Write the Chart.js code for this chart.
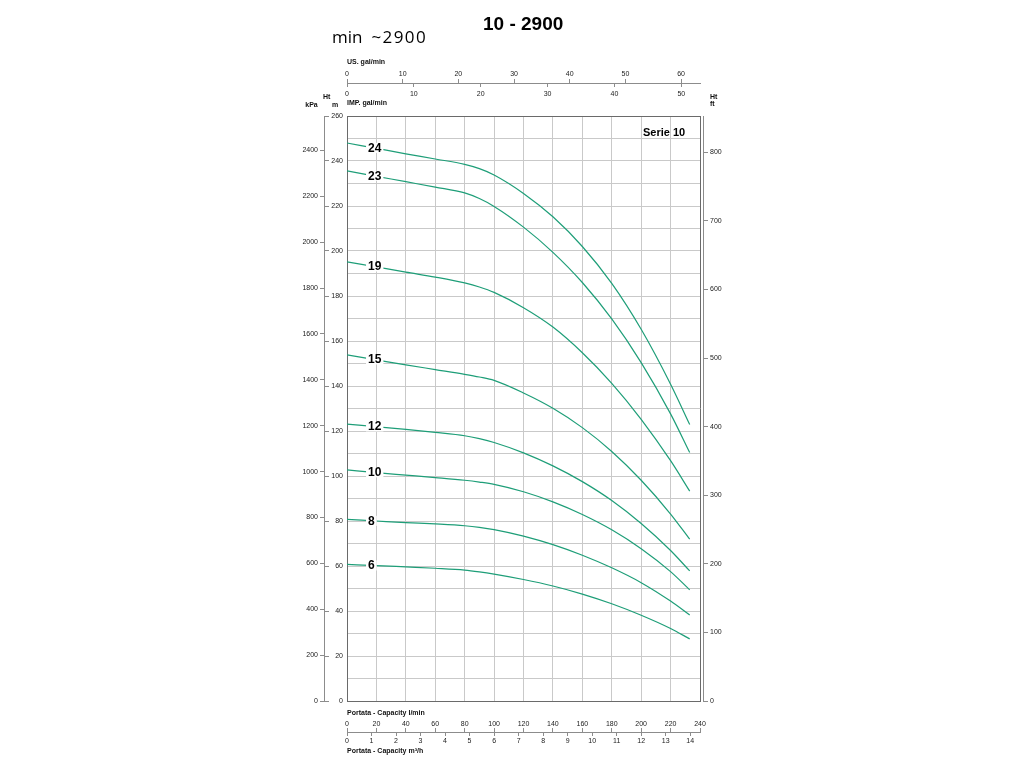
<!DOCTYPE html>
<html lang="en">
<head>
<meta charset="UTF-8">
<title>10 - 2900</title>
<script src="https://cdn.jsdelivr.net/npm/chart.js@4.4.2/dist/chart.umd.min.js"></script>
<style>
  html, body { margin: 0; padding: 0; background: #fff; }
  #wrap { width: 1024px; height: 768px; }
</style>
</head>
<body>
<div id="wrap"><canvas id="pumpChart" width="1024" height="768"></canvas></div>
<script>
  const capacity = [0, 20, 40, 60, 80, 90, 100, 120, 140, 160, 180, 200, 220, 233];
  // head (m) for each number of stages
  const head24 = [248.0, 245.6, 243.2, 240.9, 238.5, 236.6, 233.8, 225.6, 215.2, 202.0, 185.6, 165.2, 140.8, 122.9];
  const head23 = [235.6, 233.2, 230.8, 228.4, 225.8, 223.3, 219.8, 210.6, 199.4, 186.0, 169.8, 150.4, 127.6, 110.4];
  const head19 = [195.2, 192.9, 190.6, 188.4, 185.8, 184.0, 181.6, 174.8, 166.2, 154.8, 141.2, 125.2, 106.8, 93.3];
  const head15 = [153.8, 151.6, 149.4, 147.3, 145.2, 144.0, 142.5, 136.9, 130.1, 121.5, 110.9, 98.1, 83.1, 71.9];
  const head12 = [123.1, 121.9, 120.7, 119.4, 117.9, 116.6, 114.9, 110.3, 104.5, 97.5, 89.1, 78.9, 66.9, 57.8];
  const head10 = [102.7, 101.5, 100.4, 99.3, 98.1, 97.3, 96.3, 93.0, 88.5, 82.9, 76.1, 67.7, 57.5, 49.4];
  const head8  = [80.7, 80.0, 79.3, 78.7, 77.9, 77.2, 76.2, 73.3, 69.5, 64.8, 59.2, 52.6, 44.4, 38.2];
  const head6  = [60.7, 60.2, 59.6, 59.0, 58.2, 57.4, 56.4, 54.0, 51.1, 47.5, 43.2, 38.1, 32.2, 27.6];
  const stageNames = ['24', '23', '19', '15', '12', '10', '8', '6'];
  const headSeries = [head24, head23, head19, head15, head12, head10, head8, head6];

  // tick labels of every axis
  const lpmTicks = [0, 20, 40, 60, 80, 100, 120, 140, 160, 180, 200, 220, 240];
  const m3hTicks = [0, 1, 2, 3, 4, 5, 6, 7, 8, 9, 10, 11, 12, 13, 14];
  const usTicks  = [0, 10, 20, 30, 40, 50, 60];
  const impTicks = [0, 10, 20, 30, 40, 50];
  const mTicks   = [0, 20, 40, 60, 80, 100, 120, 140, 160, 180, 200, 220, 240, 260];
  const kpaTicks = [0, 200, 400, 600, 800, 1000, 1200, 1400, 1600, 1800, 2000, 2200, 2400];
  const ftTicks  = [0, 100, 200, 300, 400, 500, 600, 700, 800];

  const Q_MAX = 240, H_MAX = 260;
  const FONT = "'Liberation Sans', Arial, sans-serif";
  const tickFont = { family: FONT, size: 7 };
  const titleFont = { family: FONT, size: 7, weight: 'bold' };
  const lineGreen = '#1e9e78';
  const gridGray = '#c9c9c9';
  const edgeGray = '#6a6a6a';
  const axisGray = '#8c8c8c';

  function fixed(size) {
    return s => { if (s.isHorizontal()) s.height = size; else s.width = size; };
  }
  function setTicks(list) {
    return s => { s.ticks = list.map(v => ({ value: v })); };
  }
  const plain = v => String(v);
  const noGrid = { display: false, drawTicks: false, tickLength: 0 };
  const markGrid = { display: true, drawOnChartArea: false, drawTicks: true, tickLength: 4, tickColor: axisGray, tickWidth: 1 };

  // capacity / head axes in other units share the same range
  function extraAxis(position, weight, max, ticks, size, more) {
    return Object.assign({
      type: 'linear', position: position, weight: weight, min: 0, max: max,
      afterBuildTicks: setTicks(ticks), afterFit: fixed(size),
      grid: noGrid, border: { display: false },
      ticks: { display: false }
    }, more || {});
  }
  function shownTicks(padding) {
    return { display: true, autoSkip: false, maxRotation: 0, minRotation: 0, font: tickFont, color: '#222', padding: padding, callback: plain };
  }

  const curveLabels = {
    id: 'curveLabels',
    afterDatasetsDraw(chart) {
      const { ctx, scales: { x, y } } = chart;
      const labelQ = 18;
      ctx.save();
      ctx.font = 'bold 12px ' + FONT;
      ctx.textBaseline = 'middle';
      ctx.textAlign = 'left';
      headSeries.forEach((h, i) => {
        const v = h[0] + (h[1] - h[0]) * labelQ / (capacity[1] - capacity[0]);
        const py = y.getPixelForValue(v);
        const px = x.getPixelForValue(14.3);
        const w = ctx.measureText(stageNames[i]).width;
        ctx.fillStyle = '#fff';
        ctx.fillRect(px - 2, py - 5, w + 4, 10);
        ctx.fillStyle = '#000';
        ctx.fillText(stageNames[i], px, py + 0.5);
      });
      ctx.restore();
    }
  };

  const headerText = {
    id: 'headerText',
    afterDraw(chart) {
      const { ctx, chartArea, scales } = chart;
      ctx.save();
      ctx.fillStyle = '#000';
      ctx.textBaseline = 'alphabetic';
      ctx.textAlign = 'left';
      ctx.font = 'bold 19px ' + FONT;
      ctx.fillText('10 - 2900', 483, 30);
      ctx.font = "17px 'Open Sans', sans-serif";
      ctx.fillText('min', 332, 42.5);
      if ('letterSpacing' in ctx) ctx.letterSpacing = '1.4px';
      ctx.fillText('~2900', 371.5, 42.5);
      if ('letterSpacing' in ctx) ctx.letterSpacing = '0px';

      ctx.font = 'bold 11px ' + FONT;
      ctx.fillText('Serie 10', chartArea.right - 57, chartArea.top + 19.5);

      ctx.fillStyle = '#111';
      ctx.font = 'bold 7px ' + FONT;
      const kpa = scales.yKpa;
      ctx.textAlign = 'center';
      ctx.fillText('kPa', kpa.right - 12.5, 107);
      ctx.textAlign = 'left';
      ctx.fillText('Ht', kpa.right - 1, 98.5);
      ctx.fillText('m', chartArea.left - 15, 107);
      const ft = scales.yFt;
      ctx.fillText('Ht', ft.left + 7, 98.5);
      ctx.fillText('ft', ft.left + 7, 105.5);
      ctx.restore();
    }
  };

  new Chart(document.getElementById('pumpChart'), {
    type: 'line',
    data: {
      datasets: stageNames.map((name, i) => ({
        label: name,
        data: capacity.map((q, k) => ({ x: q, y: headSeries[i][k] })),
        borderColor: lineGreen,
        borderWidth: 1.2,
        pointRadius: 0,
        fill: false,
        cubicInterpolationMode: 'monotone',
        xAxisID: 'x',
        yAxisID: 'y'
      }))
    },
    options: {
      responsive: false,
      animation: false,
      layout: { padding: { left: 294, right: 291, top: 55, bottom: 10 } },
      plugins: { legend: { display: false }, tooltip: { enabled: false } },
      scales: {
        // bottom: l/min grid + title, l/min labels, l/min marks, m3/h axis
        x: {
          type: 'linear', position: 'bottom', weight: 0, min: 0, max: Q_MAX,
          afterBuildTicks: setTicks(lpmTicks), afterFit: fixed(17),
          grid: { color: c => (c.tick && c.tick.value === Q_MAX ? edgeGray : gridGray), lineWidth: 1, drawTicks: false, tickLength: 0 },
          border: { color: edgeGray, width: 1 },
          ticks: { display: false },
          title: { display: true, text: 'Portata - Capacity l/min', align: 'start', color: '#111', font: titleFont, padding: { top: 0, bottom: 1 } }
        },
        xLpm: extraAxis('bottom', 1, Q_MAX, lpmTicks, 10, { ticks: shownTicks(1.5) }),
        xLpmMarks: extraAxis('bottom', 2, Q_MAX, lpmTicks, 4, { grid: markGrid }),
        xM3h: extraAxis('bottom', 3, Q_MAX * 0.06, m3hTicks, 26, {
          grid: markGrid,
          border: { display: true, color: axisGray, width: 1 },
          ticks: shownTicks(0.8),
          title: { display: true, text: 'Portata - Capacity m³/h', align: 'start', color: '#111', font: titleFont, padding: { top: 0, bottom: 2.5 } }
        }),
        // top: IMP title, IMP labels, IMP marks, US axis
        xImpTitle: extraAxis('top', 0, Q_MAX / 4.54609, impTicks, 18, {
          title: { display: true, text: 'IMP. gal/min', align: 'start', color: '#111', font: titleFont, padding: { top: 0.8, bottom: 0 } }
        }),
        xImp: extraAxis('top', 1, Q_MAX / 4.54609, impTicks, 11, { ticks: shownTicks(0) }),
        xImpMarks: extraAxis('top', 2, Q_MAX / 4.54609, impTicks, 4, { grid: markGrid }),
        xUs: extraAxis('top', 3, Q_MAX / 3.78541, usTicks, 28, {
          grid: markGrid,
          border: { display: true, color: axisGray, width: 1 },
          ticks: shownTicks(0.5),
          title: { display: true, text: 'US. gal/min', align: 'start', color: '#111', font: titleFont, padding: { top: 3.3, bottom: 0 } }
        }),
        // left: m labels + grid, m marks, kPa axis
        y: {
          type: 'linear', position: 'left', weight: 0, min: 0, max: H_MAX,
          afterFit: fixed(18),
          grid: { color: c => (c.tick && c.tick.value === H_MAX ? edgeGray : gridGray), lineWidth: 1, drawTicks: false, tickLength: 0 },
          border: { color: edgeGray, width: 1 },
          ticks: { stepSize: 10, autoSkip: false, font: tickFont, color: '#222', padding: 4,
                   callback: v => (mTicks.includes(v) ? String(v) : '') }
        },
        yMarks: extraAxis('left', 1, H_MAX, mTicks, 5, { grid: markGrid }),
        yKpa: extraAxis('left', 2, H_MAX * 9.80665, kpaTicks, 30, {
          grid: markGrid,
          border: { display: true, color: axisGray, width: 1 },
          ticks: shownTicks(2)
        }),
        // right: small gap, then ft axis
        ySpacer: extraAxis('right', 0, H_MAX, [], 3),
        yFt: extraAxis('right', 1, H_MAX / 0.3048, ftTicks, 30, {
          grid: Object.assign({}, markGrid, { tickLength: 5 }),
          border: { display: true, color: axisGray, width: 1 },
          ticks: shownTicks(2)
        })
      }
    },
    plugins: [curveLabels, headerText]
  });
</script>
</body>
</html>
